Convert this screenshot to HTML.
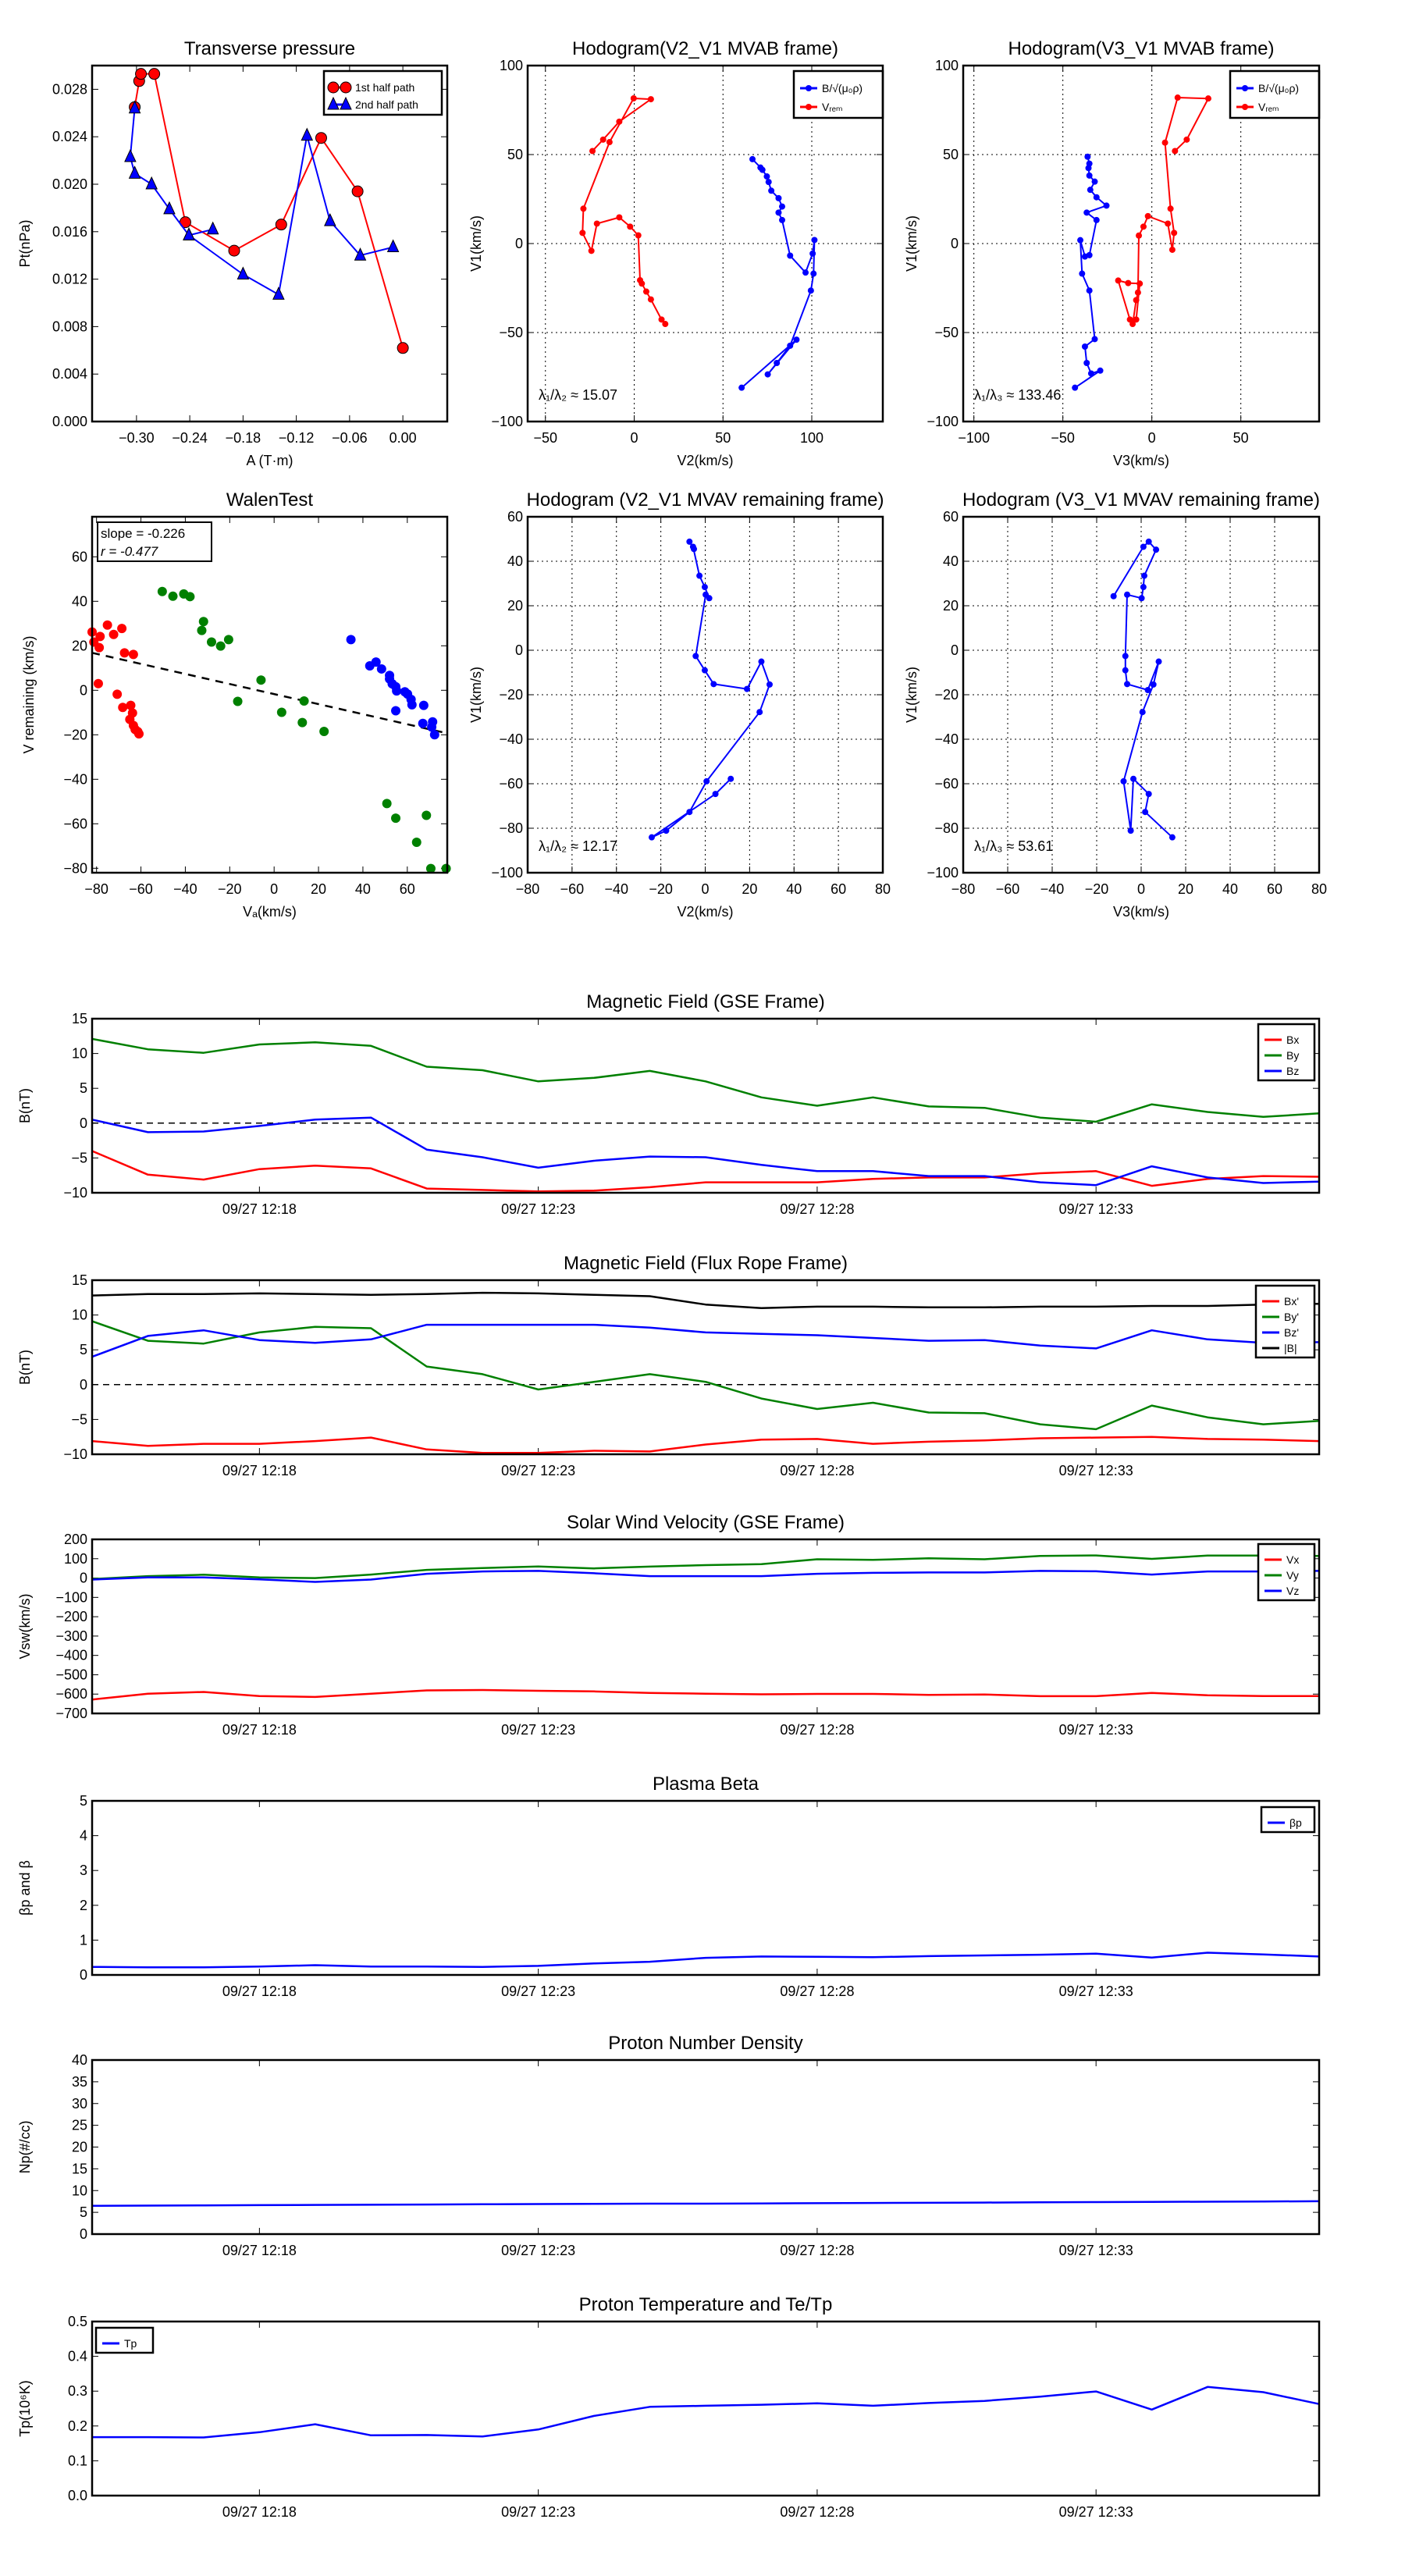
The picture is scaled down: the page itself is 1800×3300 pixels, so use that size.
<!DOCTYPE html>
<html><head><meta charset="utf-8"><style>
body{margin:0;background:#fff}
svg{display:block;font-family:"Liberation Sans",sans-serif}
</style></head><body>
<svg id="fig" xmlns="http://www.w3.org/2000/svg" width="1800" height="3300" viewBox="0 0 1800 3300"></svg>
<script>
// ---------- DATA ----------
const presRedX=[-0.302,-0.297,-0.295,-0.280,-0.245,-0.190,-0.137,-0.092,-0.051,0.000];
const presRedY=[0.0265,0.0287,0.0293,0.0293,0.0168,0.0144,0.0166,0.0239,0.0194,0.0062];
const presBlueX=[-0.302,-0.307,-0.302,-0.283,-0.263,-0.241,-0.214,-0.241,-0.180,-0.140,-0.108,-0.082,-0.048,-0.011];
const presBlueY=[0.0264,0.0223,0.0209,0.0200,0.0179,0.0157,0.0162,0.0157,0.0124,0.0107,0.0241,0.0169,0.0140,0.0147];
const h1BX=[66.6,71.1,72.2,74.7,75.7,77.2,81.3,83.3,81.3,83.3,87.8,96.5,100.5,101.5,101.0,99.5,87.8,80.3,75.2,91.4,60.5];
const h1BY=[47.4,42.7,41.4,37.7,34.6,29.7,25.5,20.8,17.4,13.2,-6.8,-16.3,-5.6,2.0,-16.9,-26.4,-57.4,-67.1,-73.5,-54.0,-81.0];
const h1VX=[-23.5,-17.5,-8.4,9.4,-0.3,-13.9,-28.6,-29.1,-24.1,-21.0,-8.4,-2.3,2.3,3.3,4.3,6.8,9.4,15.4,17.5];
const h1VY=[52.0,58.4,68.5,81.1,81.6,57.0,19.6,6.0,-4.1,11.2,14.7,9.5,4.6,-20.6,-22.5,-27.0,-31.4,-42.7,-45.2];
const h2BX=[-36.1,-35.1,-35.6,-35.1,-32.1,-34.6,-31.1,-25.5,-36.6,-31.1,-35.1,-37.6,-40.2,-39.2,-35.1,-32.1,-37.6,-36.6,-34.1,-29.0,-43.2];
const h2BY=[48.8,44.9,42.4,38.2,34.8,30.2,26.0,21.3,17.4,13.2,-6.5,-7.3,1.9,-16.9,-26.4,-53.7,-57.9,-67.1,-73.0,-71.4,-81.0];
const h2VX=[13.0,19.6,31.7,14.5,7.4,10.5,12.5,11.5,9.0,-2.2,-4.7,-7.3,-7.8,-8.8,-10.8,-12.3,-18.9,-13.3,-6.8,-8.8];
const h2VY=[52.0,58.4,81.5,82.0,56.7,19.6,6.0,-3.5,11.2,15.4,9.5,4.5,-27.5,-31.8,-45.2,-42.7,-20.8,-22.2,-22.5,-42.7];
const walRedX=[-82.0,-81.2,-78.4,-75.1,-72.3,-68.6,-78.8,-67.4,-63.4,-79.2,-70.7,-68.2,-64.6,-63.8,-65.0,-63.4,-62.6,-61.4,-60.9];
const walRedY=[26.2,21.7,24.2,29.3,25.1,27.8,19.2,16.8,16.1,3.0,-1.8,-7.7,-6.8,-10.2,-13.1,-15.8,-17.6,-18.6,-19.6];
const walGreenX=[-50.4,-45.6,-40.7,-37.9,-31.8,-32.6,-28.2,-24.1,-20.5,-5.9,-16.4,3.4,13.5,12.7,22.5,50.8,54.8,68.6,64.2,70.6,77.5];
const walGreenY=[44.4,42.3,43.3,42.1,30.9,26.9,21.7,19.9,22.8,4.6,-5.0,-9.9,-4.8,-14.5,-18.5,-50.9,-57.5,-56.2,-68.3,-80.1,-80.1];
const walBlueX=[34.6,43.1,45.9,48.4,52.0,52.0,53.2,54.8,55.2,58.9,60.1,61.7,62.1,54.8,67.4,67.0,71.4,72.3,71.0];
const walBlueY=[22.8,11.0,12.7,9.6,6.7,5.1,2.9,1.6,-0.3,-0.7,-1.7,-4.1,-6.5,-9.2,-6.8,-14.9,-14.2,-20.0,-16.5];
const walFit=[-0.226,-1.7];
const h3X=[-7.1,-5.1,-5.5,-2.6,-0.2,1.8,0.2,-4.3,-0.2,3.8,18.8,25.3,29.0,24.5,0.6,-7.1,-17.6,-24.1,4.6,11.5];
const h3Y=[48.8,45.5,46.5,33.5,28.4,23.4,25.0,-2.6,-9.0,-15.2,-17.4,-5.1,-15.4,-27.8,-58.9,-72.7,-81.1,-84.1,-64.6,-57.8];
const h4X=[-12.4,1.0,3.4,6.7,1.4,1.0,0.2,-6.3,-7.1,-7.1,-6.3,3.0,7.9,5.5,0.6,-7.9,-4.7,-3.5,3.4,1.8,14.0];
const h4Y=[24.3,46.5,48.8,45.2,33.5,28.4,23.4,25.0,-2.6,-9.0,-15.2,-17.9,-5.1,-15.4,-27.8,-58.9,-81.1,-57.8,-64.6,-72.7,-84.1];
const timeTicks=["09/27 12:18","09/27 12:23","09/27 12:28","09/27 12:33"];
const timeTickIdx=[3,8,13,18];
const bx=[-4.0,-7.4,-8.1,-6.6,-6.1,-6.5,-9.4,-9.6,-9.8,-9.7,-9.2,-8.5,-8.5,-8.5,-8.0,-7.8,-7.8,-7.2,-6.9,-9.0,-8.0,-7.6,-7.7];
const by=[12.1,10.6,10.1,11.3,11.6,11.1,8.1,7.6,6.0,6.5,7.5,6.0,3.7,2.5,3.7,2.4,2.2,0.8,0.2,2.7,1.6,0.9,1.4];
const bz=[0.5,-1.3,-1.2,-0.4,0.5,0.8,-3.8,-4.9,-6.4,-5.4,-4.8,-4.9,-6.0,-6.9,-6.9,-7.6,-7.6,-8.5,-8.9,-6.2,-7.8,-8.6,-8.4];
const fbx=[-8.1,-8.8,-8.5,-8.5,-8.1,-7.6,-9.3,-9.8,-9.8,-9.5,-9.6,-8.6,-7.9,-7.8,-8.5,-8.2,-8.0,-7.7,-7.6,-7.5,-7.8,-7.9,-8.1];
const fby=[9.1,6.3,5.9,7.5,8.3,8.1,2.6,1.5,-0.7,0.4,1.5,0.4,-2.0,-3.5,-2.6,-4.0,-4.1,-5.7,-6.4,-3.0,-4.7,-5.7,-5.2];
const fbz=[4.0,7.0,7.8,6.4,6.0,6.5,8.6,8.6,8.6,8.6,8.2,7.5,7.3,7.1,6.7,6.3,6.4,5.6,5.2,7.8,6.5,6.0,6.1];
const fbt=[12.8,13.0,13.0,13.1,13.0,12.9,13.0,13.2,13.1,12.9,12.7,11.5,11.0,11.2,11.2,11.1,11.1,11.2,11.2,11.3,11.3,11.5,11.6];
const vx=[-628,-598,-589,-610,-615,-598,-581,-579,-583,-586,-594,-598,-601,-599,-599,-604,-602,-611,-611,-594,-606,-610,-610];
const vy=[-5,10,17,3,0,18,42,52,60,50,59,67,72,97,94,102,97,114,117,99,116,116,114];
const vz=[-8,3,3,-7,-20,-8,22,34,37,25,10,10,10,22,27,29,29,37,35,18,34,34,37];
const beta=[0.23,0.22,0.22,0.24,0.28,0.24,0.24,0.23,0.26,0.33,0.38,0.49,0.53,0.52,0.51,0.54,0.56,0.58,0.61,0.50,0.64,0.59,0.53];
const np=[6.5,6.55,6.6,6.65,6.7,6.75,6.8,6.85,6.9,6.95,7.0,7.0,7.05,7.1,7.15,7.2,7.25,7.3,7.35,7.4,7.45,7.5,7.55];
const tp=[0.168,0.168,0.167,0.182,0.205,0.173,0.174,0.170,0.190,0.229,0.255,0.258,0.261,0.265,0.258,0.266,0.272,0.284,0.299,0.247,0.312,0.297,0.263];

// ---------- DRAWING ----------
const NS="http://www.w3.org/2000/svg";
const fig=document.getElementById('fig');
function mk(tag,at,parent){const e=document.createElementNS(NS,tag);for(const k in at)e.setAttribute(k,at[k]);(parent||fig).appendChild(e);return e;}
function txt(s,x,y,size,anchor,parent,rot){const t=mk('text',{x:x,y:y,'font-size':size,'text-anchor':anchor||'middle',fill:'#000'},parent);if(rot)t.setAttribute('transform','rotate(-90 '+x+' '+y+')');t.textContent=s;return t;}
function fmt(v,d){const s=v.toFixed(d);return v<0?'\u2212'+s.slice(1):s;}
function axes(name,x0,y0,x1,y1,xmin,xmax,ymin,ymax){
  const g=mk('g',{});
  
  
  const A={g,x0,y0,x1,y1,sx:v=>x0+(v-xmin)/(xmax-xmin)*(x1-x0),sy:v=>y1-(v-ymin)/(ymax-ymin)*(y1-y0)};
  return A;
}
function frame(A){const r=mk('rect',{x:A.x0,y:A.y0,width:A.x1-A.x0,height:A.y1-A.y0,fill:'none',stroke:'#000','stroke-width':2.5},A.g);
  }
function xticks(A,vals,labels,grid){vals.forEach((v,i)=>{const x=A.sx(v);
  mk('line',{x1:x,y1:A.y1,x2:x,y2:A.y1-8,stroke:'#000','stroke-width':1},A.g);
  mk('line',{x1:x,y1:A.y0,x2:x,y2:A.y0+8,stroke:'#000','stroke-width':1},A.g);
  if(grid)mk('line',{x1:x,y1:A.y0,x2:x,y2:A.y1,stroke:'#000','stroke-width':1,'stroke-dasharray':'2,4'},A.g);
  const t=txt(labels[i],x,A.y1+27,18,'middle',A.g);});}
function yticks(A,vals,labels,grid){vals.forEach((v,i)=>{const y=A.sy(v);
  mk('line',{x1:A.x0,y1:y,x2:A.x0+8,y2:y,stroke:'#000','stroke-width':1},A.g);
  mk('line',{x1:A.x1,y1:y,x2:A.x1-8,y2:y,stroke:'#000','stroke-width':1},A.g);
  if(grid)mk('line',{x1:A.x0,y1:y,x2:A.x1,y2:y,stroke:'#000','stroke-width':1,'stroke-dasharray':'2,4'},A.g);
  const t=txt(labels[i],A.x0-6,y+6,18,'end',A.g);});}
function poly(A,xs,ys,color,w,name){const pts=xs.map((x,i)=>A.sx(x).toFixed(1)+','+A.sy(ys[i]).toFixed(1)).join(' ');
  const p=mk('polyline',{points:pts,fill:'none',stroke:color,'stroke-width':w,'stroke-linejoin':'round'},A.g);
  return p;}
function dots(A,xs,ys,color,r,name,stroke){xs.forEach((x,i)=>{const c=mk('circle',{cx:A.sx(x),cy:A.sy(ys[i]),r:r,fill:color,stroke:stroke||'none','stroke-width':1},A.g);
  });}
function tris(A,xs,ys,color,name){xs.forEach((x,i)=>{const cx=A.sx(x),cy=A.sy(ys[i]);
  const p=mk('polygon',{points:cx+','+(cy-9)+' '+(cx-7)+','+(cy+6)+' '+(cx+7)+','+(cy+6),fill:color,stroke:'#000','stroke-width':1},A.g);
  });}
function range(a,b,s){const r=[];for(let v=a;v<=b+1e-9;v+=s)r.push(+v.toFixed(6));return r;}
function title(A,s){const t=txt(s,(A.x0+A.x1)/2,A.y0-14,24,'middle',A.g);return t;}
function xlabel(A,s){const t=txt(s,(A.x0+A.x1)/2,A.y1+56,18,'middle',A.g);return t;}
function ylabel(A,s,off){const x=A.x0-(off||70),y=(A.y0+A.y1)/2;const t=txt(s,x,y,18,'middle',A.g,true);return t;}
function legend(A,x,y,w,items,lh,marker){const g=mk('g',{},A.g);
  
  mk('rect',{x:x,y:y,width:w,height:items.length*lh+12,fill:'#fff',stroke:'#000','stroke-width':2.5},g);
  items.forEach((it,i)=>{const yy=y+10+lh*(i+0.5);
    mk('line',{x1:x+8,y1:yy,x2:x+30,y2:yy,stroke:it[1],'stroke-width':3},g);
    if(marker==='o')mk('circle',{cx:x+19,cy:yy,r:4,fill:it[1]},g);
    if(marker==='big'){if(i===0){mk('circle',{cx:x+12,cy:yy,r:7,fill:it[1],stroke:'#000'},g);mk('circle',{cx:x+28,cy:yy,r:7,fill:it[1],stroke:'#000'},g);}
      else{mk('polygon',{points:(x+12)+','+(yy-9)+' '+(x+5)+','+(yy+6)+' '+(x+19)+','+(yy+6),fill:it[1],stroke:'#000'},g);mk('polygon',{points:(x+28)+','+(yy-9)+' '+(x+21)+','+(yy+6)+' '+(x+35)+','+(yy+6),fill:it[1],stroke:'#000'},g);}}
    const t=txt(it[0],x+(marker==='big'?40:36),yy+5,14,'start',g);});}

// ---- Transverse pressure
let A=axes('transverse-pressure-chart',118,84,573,540,-0.35,0.05,0,0.03);
title(A,'Transverse pressure');
xticks(A,range(-0.30,0.0,0.06),range(-0.30,0.0,0.06).map(v=>fmt(v,2)));
yticks(A,range(0,0.028,0.004),range(0,0.028,0.004).map(v=>v.toFixed(3)));
xlabel(A,'A (T·m)');ylabel(A,'Pt(nPa)',80);
poly(A,presRedX,presRedY,'red',2,'first-half-path-line');dots(A,presRedX,presRedY,'red',7,'first-half-point','#000');
poly(A,presBlueX,presBlueY,'blue',2,'second-half-path-line');tris(A,presBlueX,presBlueY,'blue','second-half-point');
legend(A,415,91,151,[['1st half path','red'],['2nd half path','blue']],22,'big');
frame(A);

// ---- Hodogram V2_V1 MVAB
function hodo(name,x0,y0,x1,y1,xr,yr,xt,yt,ttl,xl,bx_,by_,vx_,vy_,lam,leg){
  const A=axes(name,x0,y0,x1,y1,xr[0],xr[1],yr[0],yr[1]);
  title(A,ttl);xticks(A,xt,xt.map(v=>fmt(v,0)),true);yticks(A,yt,yt.map(v=>fmt(v,0)),true);
  xlabel(A,xl);ylabel(A,'V1(km/s)',60);
  poly(A,bx_,by_,'blue',2,'b-alfven-path');dots(A,bx_,by_,'blue',4,'b-alfven-point');
  if(vx_){poly(A,vx_,vy_,'red',2,'v-remaining-path');dots(A,vx_,vy_,'red',4,'v-remaining-point');}
  const t=txt(lam,x0+14,y1-28,18,'start',A.g);
  if(leg)legend(A,x1-114,y0+7,114,[['B/\u221A(\u03BC\u2080\u03C1)','blue'],['V\u1D63\u2091\u2098','red']],24,'o');
  frame(A);return A;}
hodo('hodogram-v2-v1-mvab',676,84,1131,540,[-60,140],[-100,100],[-50,0,50,100],[-100,-50,0,50,100],'Hodogram(V2_V1 MVAB frame)','V2(km/s)',h1BX,h1BY,h1VX,h1VY,'\u03BB\u2081/\u03BB\u2082 \u2248 15.07',true);
hodo('hodogram-v3-v1-mvab',1234,84,1690,540,[-106,94],[-100,100],[-100,-50,0,50],[-100,-50,0,50,100],'Hodogram(V3_V1 MVAB frame)','V3(km/s)',h2BX,h2BY,h2VX,h2VY,'\u03BB\u2081/\u03BB\u2083 \u2248 133.46',true);

// ---- Walen test
A=axes('walen-test-chart',118,662,573,1118,-82,78,-82,78);
title(A,'WalenTest');
xticks(A,range(-80,60,20),range(-80,60,20).map(v=>fmt(v,0)));
yticks(A,range(-80,60,20),range(-80,60,20).map(v=>fmt(v,0)));
xlabel(A,'V\u2090(km/s)');ylabel(A,'V remaining (km/s)',75);
const fx=[-82,78];
poly(A,fx,fx.map(x=>walFit[0]*x+walFit[1]),'#000',2.5,'regression-line').setAttribute('stroke-dasharray','10,8');
dots(A,walRedX,walRedY,'red',6,'walen-red-point');dots(A,walGreenX,walGreenY,'green',6,'walen-green-point');dots(A,walBlueX,walBlueY,'blue',6,'walen-blue-point');
{const g=mk('g',{},A.g);
mk('rect',{x:125,y:669,width:146,height:50,fill:'#fff',stroke:'#000','stroke-width':2},g);
txt('slope = -0.226',129,689,17,'start',g);txt('r = -0.477',129,712,17,'start',g).setAttribute('font-style','italic');}
frame(A);

hodo('hodogram-v2-v1-mvav',676,662,1131,1118,[-80,80],[-100,60],range(-80,80,20),range(-100,60,20),'Hodogram (V2_V1 MVAV remaining frame)','V2(km/s)',h3X,h3Y,null,null,'\u03BB\u2081/\u03BB\u2082 \u2248 12.17',false);
hodo('hodogram-v3-v1-mvav',1234,662,1690,1118,[-80,80],[-100,60],range(-80,80,20),range(-100,60,20),'Hodogram (V3_V1 MVAV remaining frame)','V3(km/s)',h4X,h4Y,null,null,'\u03BB\u2081/\u03BB\u2083 \u2248 53.61',false);

// ---- Time series
const idx=bx.map((_,i)=>i);
function ts(name,top,ymin,ymax,yt,dec,ttl,yl,series,leg,zero){
  const A=axes(name,118,top,1690,top+223,0,22,ymin,ymax);
  title(A,ttl);
  xticks(A,timeTickIdx,timeTicks);
  yticks(A,yt,yt.map(v=>fmt(v,dec)));
  ylabel(A,yl,80);
  if(zero){const l=poly(A,[0,22],[0,0],'#000',1.5,'zero-line');l.setAttribute('stroke-dasharray','8,6');}
  series.forEach(s=>poly(A,idx,s[0],s[1],2.5,s[2]));
  if(leg)legend(A,leg[0],leg[1],leg[2],series.map(s=>[s[3],s[1]]),leg[3]);
  frame(A);return A;}
ts('magnetic-field-gse-chart',1305,-10,15,range(-10,15,5),0,'Magnetic Field (GSE Frame)','B(nT)',[[bx,'red','bx-line','Bx'],[by,'green','by-line','By'],[bz,'blue','bz-line','Bz']],[1612,1312,72,20],true);
ts('magnetic-field-flux-rope-chart',1640,-10,15,range(-10,15,5),0,'Magnetic Field (Flux Rope Frame)','B(nT)',[[fbx,'red','bx-prime-line',"Bx'"],[fby,'green','by-prime-line',"By'"],[fbz,'blue','bz-prime-line',"Bz'"],[fbt,'black','b-magnitude-line','|B|']],[1609,1647,75,20],true);
ts('solar-wind-velocity-chart',1972,-700,200,range(-700,200,100),0,'Solar Wind Velocity (GSE Frame)','Vsw(km/s)',[[vx,'red','vx-line','Vx'],[vy,'green','vy-line','Vy'],[vz,'blue','vz-line','Vz']],[1612,1978,72,20],false);
ts('plasma-beta-chart',2307,0,5,range(0,5,1),0,'Plasma Beta','\u03B2p and \u03B2',[[beta,'blue','beta-line','\u03B2p']],[1616,2315,68,20],false);
ts('proton-density-chart',2639,0,40,range(0,40,5),0,'Proton Number Density','Np(#/cc)',[[np,'blue','density-line','Np']],null,false);
ts('proton-temperature-chart',2974,0,0.5,range(0,0.5,0.1),1,'Proton Temperature and Te/Tp','Tp(10\u2076K)',[[tp,'blue','temperature-line','Tp']],[123,2982,73,20],false);
</script>
</body></html>
